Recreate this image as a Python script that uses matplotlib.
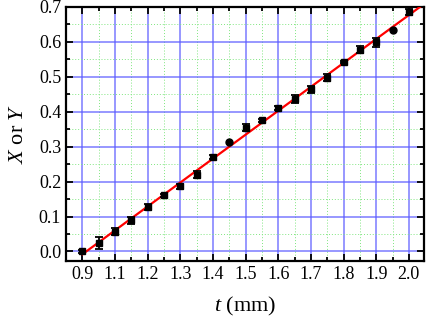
import numpy as np
import matplotlib
matplotlib.use("Agg")
import matplotlib.pyplot as plt
from matplotlib.ticker import MultipleLocator

# measured points (t on the drawn axis, X or Y value, error)
t_vals = [0.90, 0.95, 1.00, 1.05, 1.10, 1.15, 1.20, 1.25, 1.30, 1.35, 1.40,
          1.45, 1.50, 1.55, 1.60, 1.65, 1.70, 1.75, 1.80, 1.85, 1.90]
xy_vals = [0.000, 0.024, 0.057, 0.089, 0.127, 0.161, 0.186, 0.220, 0.270, 0.312, 0.354,
           0.375, 0.410, 0.436, 0.464, 0.497, 0.541, 0.577, 0.598, 0.633, 0.684]
xy_err = [0.004, 0.017, 0.010, 0.010, 0.008, 0.004, 0.008, 0.010, 0.006, 0.000, 0.010,
          0.004, 0.005, 0.012, 0.010, 0.010, 0.003, 0.010, 0.012, 0.000, 0.008]
round_pts = [9, 19]

tick_pos = [0.9, 1.0, 1.1, 1.2, 1.3, 1.4, 1.5, 1.6, 1.7, 1.8, 1.9]
tick_labels = ['0.9', '1.1', '1.2', '1.3', '1.4', '1.5', '1.6', '1.7', '1.8', '1.9', '2.0']

plt.rcParams['font.family'] = ['Liberation Serif', 'DejaVu Serif']
plt.rcParams['mathtext.fontset'] = 'custom'
plt.rcParams['mathtext.it'] = 'Liberation Serif:italic'
plt.rcParams['mathtext.rm'] = 'Liberation Serif'

fig = plt.figure(figsize=(4.29, 3.19), dpi=100)
ax = fig.add_axes([0.154, 0.182, 0.834, 0.797])

t = np.array(t_vals)
y = np.array(xy_vals)
err = np.array(xy_err)

# linear fit
p = np.polyfit(t, y, 1)
tt = np.array([0.90, 1.96])
ax.plot(tt, np.polyval(p, tt), color='red', lw=1.6, zorder=3)

sq = [i for i in range(len(t)) if i not in round_pts]
ax.errorbar(t[sq], y[sq], yerr=err[sq], fmt='s', color='black', ms=4.5,
            ecolor='black', elinewidth=1.3, capsize=3, capthick=1.3, zorder=4)
ax.plot(t[round_pts], y[round_pts], 'o', color='black', ms=5, zorder=4)

ax.set_xlim(0.85, 1.946)
ax.set_ylim(-0.027, 0.7)
ax.set_xticks(tick_pos)
ax.set_xticklabels(tick_labels)
ax.xaxis.set_minor_locator(MultipleLocator(0.05))
ax.yaxis.set_major_locator(MultipleLocator(0.1))
ax.yaxis.set_minor_locator(MultipleLocator(0.05))
ax.yaxis.set_major_formatter(plt.FuncFormatter(lambda v, _: f"{v:.1f}"))

ax.grid(True, which='major', color='#5a5aff', lw=1.1, alpha=0.8)
ax.grid(True, which='minor', color='#80e680', lw=0.7, linestyle=(0, (1, 2)))
ax.set_axisbelow(True)

ax.tick_params(which='both', direction='in', top=True, right=True, labelsize=13, width=1.3)
ax.tick_params(which='major', length=5)
ax.tick_params(which='minor', length=3)
for s in ax.spines.values():
    s.set_linewidth(1.6)

ax.set_xlabel(r'$t$ (mm)', fontsize=16, labelpad=9)
ax.set_ylabel(r'$X$ or $Y$', fontsize=16, labelpad=8)

fig.savefig('out.png', dpi=100)
